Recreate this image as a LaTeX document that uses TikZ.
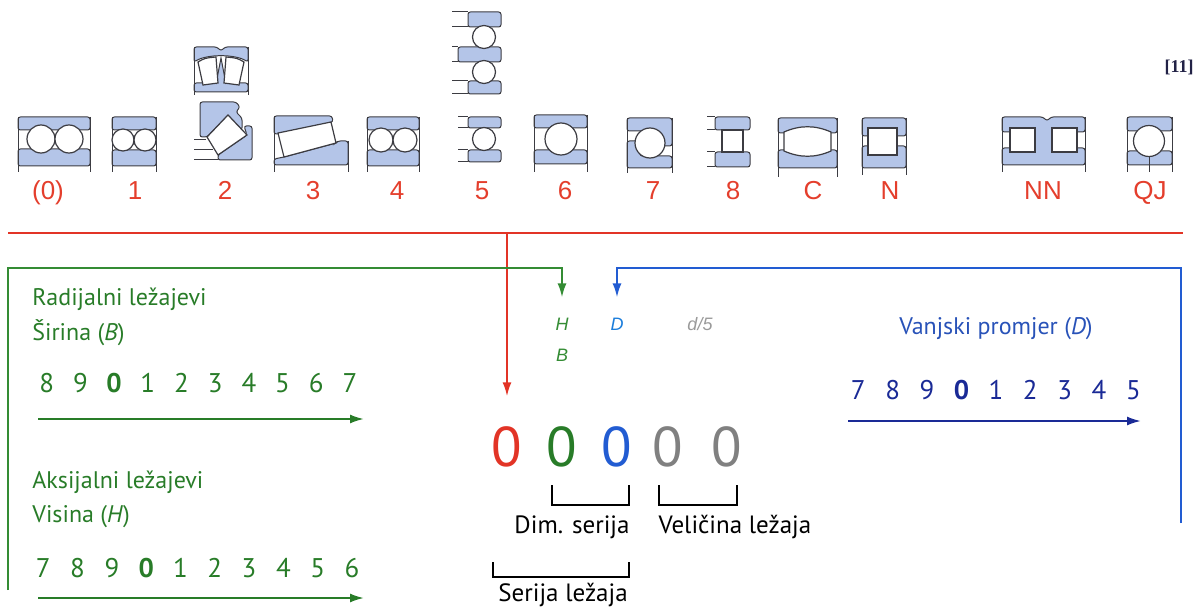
\documentclass[tikz,border=0pt]{standalone}
\usepackage{fontspec}
\setmainfont{PT Sans}
\newfontfamily\lblfont{Liberation Sans}
\newfontfamily\reffont{Liberation Serif}
\usetikzlibrary{arrows.meta}
\definecolor{typred}{RGB}{228,62,44}
\definecolor{redln}{RGB}{226,52,38}
\definecolor{grnln}{RGB}{52,140,52}
\definecolor{grntx}{RGB}{40,124,40}
\definecolor{bluln}{RGB}{34,92,210}
\definecolor{blutx}{RGB}{40,82,184}
\definecolor{bludg}{RGB}{26,42,150}
\definecolor{grytx}{RGB}{128,128,128}
\definecolor{brgfill}{RGB}{180,197,232}
\definecolor{brgline}{RGB}{60,60,66}
\definecolor{refnavy}{RGB}{34,34,70}
\tikzset{
	ring/.style={fill=brgfill,draw=brgline,line width=0.5pt,rounded corners=1.2pt},
	roll/.style={fill=white,draw=brgline,line width=0.6pt},
	leg/.style={draw=brgline,line width=0.5pt},
	typ/.style={anchor=base,text=typred,inner sep=0pt,font=\lblfont\fontsize{13}{15}\selectfont},
	hdg/.style={anchor=base west,inner sep=0pt,font=\fontsize{12}{14}\selectfont},
	dig/.style={anchor=base,inner sep=0pt,font=\fontsize{13.5}{15}\selectfont},
	zro/.style={inner sep=0pt,font=\fontsize{28}{30}\selectfont},
	iso/.style={inner sep=0pt,font=\lblfont\itshape\fontsize{9}{10}\selectfont},
	brk/.style={draw=black,line width=0.8pt},
	lab/.style={anchor=base,inner sep=0pt,font=\fontsize{12.5}{14}\selectfont},
	tip/.style={line width=1pt,arrows={-Latex[length=7pt,width=4.5pt]}}
}
\begin{document}
\begin{tikzpicture}[x=0.5pt,y=-0.5pt]
	\useasboundingbox (0,0) rectangle (1196,610);

	% bearing types
	\draw[ring] (18,117) rectangle (90,130);
	\draw[ring] (18,149) rectangle (90,166);
	\draw[leg] (18,117) -- (18,172) (90,117) -- (90,172);
	\draw[roll] (41,139) circle [radius=14];
	\draw[roll] (69,139) circle [radius=14];

	\draw[ring] (112,117) rectangle (156,130);
	\draw[ring] (112,150) rectangle (156,166);
	\draw[leg] (112,117) -- (112,172) (156,117) -- (156,172);
	\draw[roll] (123,140) circle [radius=11];
	\draw[roll] (145,140) circle [radius=11];

	\draw[ring] (194,47) -- (217,47) -- (221,51) -- (225,47) -- (248,47) -- (248,62)
		.. controls (235,54) and (207,54) .. (194,62) -- cycle;
	\draw[ring] (194,83) rectangle (248,92);
	\fill[brgfill,draw=brgline,line width=0.5pt] (216,84) -- (221,58) -- (226,84);
	\draw[roll] (198,62) .. controls (205,58) .. (216,57) -- (218,83) .. controls (211,84) .. (203,85) -- cycle;
	\draw[roll] (244,62) .. controls (237,58) .. (226,57) -- (224,83) .. controls (231,84) .. (239,85) -- cycle;
	\draw[leg] (194,47) -- (194,95) (248,47) -- (248,95);

	\draw[ring] (200,102) -- (236,102) -- (240,107) -- (236,112) -- (242,118) -- (242,130)
		-- (228,115) -- (207,137) -- (200,137) -- cycle;
	\draw[ring] (218,160) -- (218,155) -- (247,135) -- (244,126) -- (252,126) -- (252,160) -- cycle;
	\draw[roll] (228,115) -- (247,135) -- (218,155) -- (207,137) -- cycle;
	\draw[leg] (194,140) -- (206,140) (194,150) -- (213,150) (194,160) -- (218,160);

	\draw[ring] (274,116) -- (332,116) -- (333,122) -- (279,134) -- (274,134) -- cycle;
	\draw[ring] (274,165) -- (348,165) -- (348,141) -- (338,141) -- (336,143) -- (284,157) -- (274,159) -- cycle;
	\draw[roll] (278,133) -- (331,122) -- (336,143) -- (284,157) -- cycle;
	\draw[leg] (274,116) -- (274,172) (348,141) -- (348,172);

	\draw[ring] (367,117) rectangle (419,130);
	\draw[ring] (367,150) rectangle (419,166);
	\draw[leg] (367,117) -- (367,172) (419,117) -- (419,172);
	\draw[roll] (381,140) circle [radius=12];
	\draw[roll] (405,140) circle [radius=12];

	\draw[ring] (468,12) rectangle (501,27);
	\draw[ring] (458,47) rectangle (501,62);
	\draw[ring] (468,81) rectangle (501,94);
	\draw[leg] (452,12) -- (468,12) (452,27) -- (468,27) (452,47) -- (458,47) (452,62) -- (458,62)
		(452,81) -- (468,81) (452,94) -- (468,94);
	\draw[roll] (484,37) circle [radius=11.5];
	\draw[roll] (484,72) circle [radius=11.5];

	\draw[ring] (468,117) rectangle (501,128);
	\draw[ring] (468,150) rectangle (501,162);
	\draw[leg] (458,117) -- (468,117) (458,128) -- (468,128) (458,150) -- (468,150) (458,162) -- (468,162);
	\draw[roll] (484,139) circle [radius=11.5];

	\draw[ring] (534,115) rectangle (587,128);
	\draw[ring] (534,150) rectangle (587,164);
	\draw[leg] (534,115) -- (534,172) (587,115) -- (587,172);
	\draw[roll] (561,139) circle [radius=16];

	\draw[ring] (627,118) -- (672,118) -- (672,146) -- (660,146) -- (660,131) -- (627,131) -- cycle;
	\draw[ring] (627,168) -- (672,168) -- (672,156) -- (640,156) -- (640,141) -- (627,141) -- cycle;
	\draw[leg] (627,118) -- (627,173) (672,118) -- (672,173);
	\draw[roll] (650,143) circle [radius=15];

	\draw[ring] (715,117) rectangle (750,130);
	\draw[ring] (715,152) rectangle (750,167);
	\draw[leg] (707,117) -- (715,117) (707,130) -- (715,130) (707,152) -- (715,152) (707,167) -- (715,167);
	\draw[roll,line width=0.9pt] (722,130) rectangle (743,152);

	\draw[ring] (778,118) rectangle (837,133);
	\draw[ring] (778,150) rectangle (837,168);
	\draw[roll] (784,132) .. controls (800,125) and (815,125) .. (831,132) -- (831,151)
		.. controls (815,158) and (800,158) .. (784,151) -- cycle;
	\draw[leg] (778,118) -- (778,177) (837,118) -- (837,177);

	\draw[ring] (862,118) rectangle (906,136);
	\draw[ring] (862,146) rectangle (906,168);
	\draw[roll,line width=0.9pt] (868,128) rectangle (897,155);
	\draw[leg] (862,118) -- (862,175) (906,118) -- (906,175);

	\draw[ring] (1002,117) -- (1043,117) -- (1047,121) -- (1051,117) -- (1085,117) -- (1085,132) -- (1002,132) -- cycle;
	\draw[ring] (1002,148) rectangle (1085,165);
	\fill[brgfill] (1035,130) rectangle (1052,150);
	\draw[roll] (1010,128) rectangle (1035,152);
	\draw[roll] (1052,128) rectangle (1077,152);
	\draw[leg] (1002,117) -- (1002,172) (1085,117) -- (1085,172);

	\draw[ring] (1127,117) rectangle (1172,131);
	\draw[ring] (1127,151) rectangle (1172,165);
	\draw[leg] (1127,117) -- (1127,172) (1172,117) -- (1172,172) (1149,156) -- (1149,172);
	\draw[roll] (1149,141) circle [radius=15.5];

	% type labels
	\foreach \x/\t/\n in {48/{(0)}/z,135/1/a,225/2/b,313/3/c,397/4/d,482/5/e,565/6/f,
		653/7/g,733/8/h,813/C/k,890/N/n,1043/NN/nn,1150/QJ/qj}
		\node[typ] (t\n) at (\x,199) {\t};
	\node[font=\reffont\bfseries\fontsize{9}{10}\selectfont,text=refnavy,inner sep=0pt] (src) at (1179,67) {[11]};

	% code digits
	\node[zro,text=redln] (zr) at (507,447) {0};
	\node[zro,text=grntx] (zg) at (562,447) {0};
	\node[zro,text=bluln] (zb) at (617,447) {0};
	\node[zro,text=grytx] (zd1) at (668,447) {0};
	\node[zro,text=grytx] (zd2) at (727,447) {0};

	\node[iso,text=grnln] (Hl) at (562,324) {H};
	\node[iso,text=grnln] (Bl) at (562,355) {B};
	\node[iso,text=bluln!80!cyan] (Dl) at (617,324) {D};
	\node[iso,text=grytx!80] (dl) at (700,324) {d/5};

	% red: type
	\coordinate (redL) at (8,233);
	\coordinate (redR) at (1183,233);
	\coordinate (redtap) at (507,233);
	\draw[redln,line width=1pt] (redL) -- (redR);
	\draw[redln,tip] (redtap) -- ([yshift=15pt]zr.north);

	% green: width / height
	\coordinate (gbot) at (8,590);
	\coordinate (gcorner) at (8,268);
	\draw[grnln,tip] (gbot) -- (gcorner) -| ([yshift=10pt]Hl.north);
	\node[hdg,text=grntx] (rad) at (32,306) {Radijalni ležajevi};
	\node[hdg,text=grntx] (sir) at (32,341) {Širina (\textit{B})};
	\foreach \d [count=\i from 0] in {8,9,{\textbf{0}},1,2,3,4,5,6,7}
		\node[dig,text=grntx] (rd\i) at (46.7+33.7*\i,393) {\d};
	\coordinate (ra1) at (38,419);
	\coordinate (ra2) at (364,419);
	\draw[grntx,tip] (ra1) -- (ra2);
	\node[hdg,text=grntx] (aks) at (32,488) {Aksijalni ležajevi};
	\node[hdg,text=grntx] (vis) at (32,522) {Visina (\textit{H})};
	\foreach \d [count=\i from 0] in {7,8,9,{\textbf{0}},1,2,3,4,5,6}
		\node[dig,text=grntx] (ad\i) at (43.3+34.3*\i,577) {\d};
	\coordinate (aa1) at (38,598);
	\coordinate (aa2) at (364,598);
	\draw[grntx,tip] (aa1) -- (aa2);

	% blue: outer diameter
	\coordinate (bbot) at (1181,523);
	\coordinate (bcorner) at (1181,268);
	\draw[bluln,tip] (bbot) -- (bcorner) -| ([yshift=10pt]Dl.north);
	\node[hdg,anchor=base,text=blutx] (van) at (996,335) {Vanjski promjer (\textit{D})};
	\foreach \d [count=\i from 0] in {7,8,9,{\textbf{0}},1,2,3,4,5}
		\node[dig,text=bludg] (vd\i) at (858.3+34.4*\i,400) {\d};
	\coordinate (va1) at (848,421);
	\coordinate (va2) at (1141,421);
	\draw[bludg,tip] (va1) -- (va2);

	% brackets
	\draw[brk] (552,485) -- (552,505) -- (629,505) -- (629,485);
	\draw[brk] (659,485) -- (659,505) -- (737,505) -- (737,485);
	\draw[brk] (493,562) -- (493,577) -- (629,577) -- (629,562);
	\node[lab] (dim) at (572,533) {Dim. serija};
	\node[lab] (vel) at (735,533) {Veličina ležaja};
	\node[lab] (ser) at (563,601) {Serija ležaja};
\end{tikzpicture}
\end{document}
